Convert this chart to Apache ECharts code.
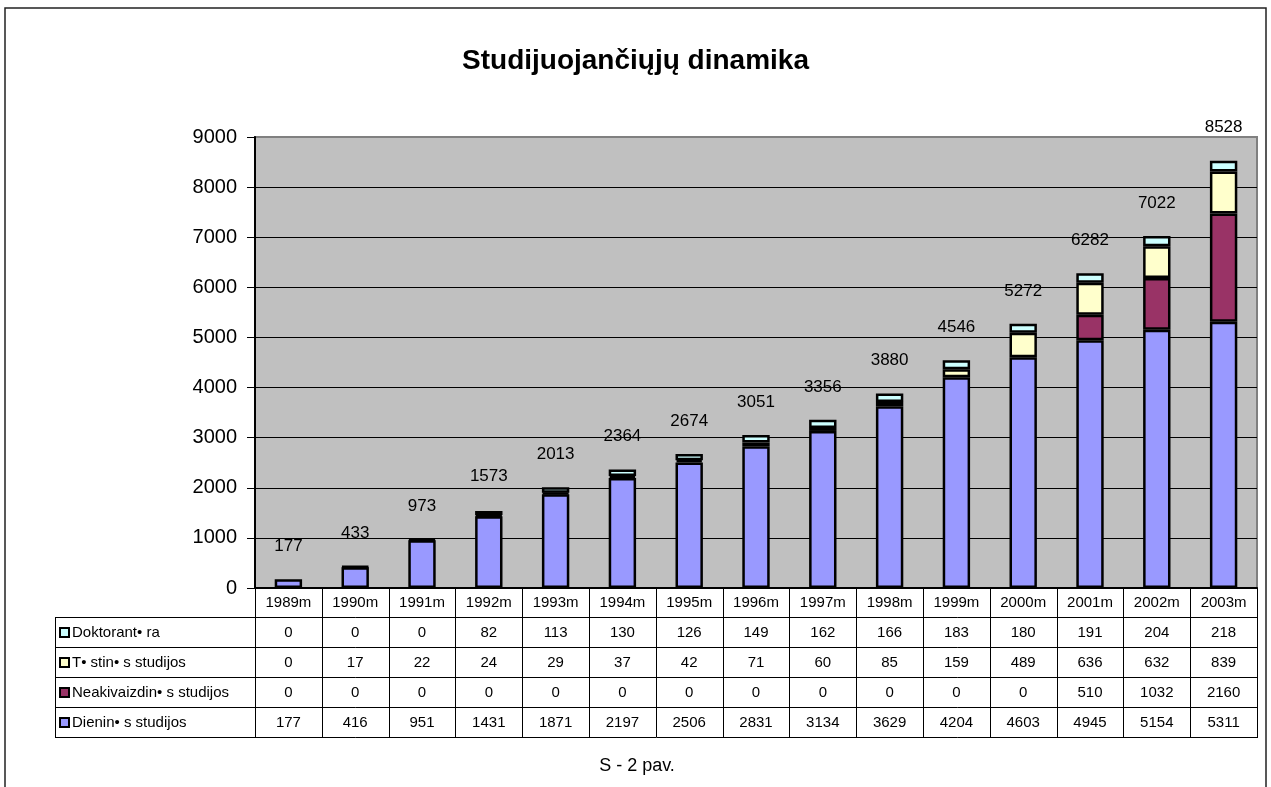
<!DOCTYPE html>
<html><head><meta charset="utf-8">
<script src="https://cdn.jsdelivr.net/npm/echarts@6/dist/echarts.min.js"></script>
<style>html,body{margin:0;padding:0;background:#fff}#c{width:1271px;height:787px}</style>
</head><body><div id="c"></div>
<script>
const categories = ['1989m','1990m','1991m','1992m','1993m','1994m','1995m','1996m','1997m','1998m','1999m','2000m','2001m','2002m','2003m'];
const dienines = [177,416,951,1431,1871,2197,2506,2831,3134,3629,4204,4603,4945,5154,5311];
const neakivaizdines = [0,0,0,0,0,0,0,0,0,0,0,0,510,1032,2160];
const testines = [0,17,22,24,29,37,42,71,60,85,159,489,636,632,839];
const doktorantura = [0,0,0,82,113,130,126,149,162,166,183,180,191,204,218];
const totals = [177,433,973,1573,2013,2364,2674,3051,3356,3880,4546,5272,6282,7022,8528];
const yTicks = [0,1000,2000,3000,4000,5000,6000,7000,8000,9000];
const seriesNames = ['Dienin• s studijos','Neakivaizdin• s studijos','T• stin• s studijos','Doktorant• ra'];
const colors = ['#9999FF','#993366','#FFFFCC','#CCFFFF'];
const tableRows = [
  {name: seriesNames[3], color: colors[3], data: doktorantura},
  {name: seriesNames[2], color: colors[2], data: testines},
  {name: seriesNames[1], color: colors[1], data: neakivaizdines},
  {name: seriesNames[0], color: colors[0], data: dienines}
];

const G = {left: 255, right: 1257, top: 137, bottom: 588};
const tableLeft = 55, rowH = 30, headerH = 29;
const FONT = '"Liberation Sans", Arial, sans-serif';

const chart = echarts.init(document.getElementById('c'), null, {renderer: 'canvas'});

const seriesData = [dienines, neakivaizdines, testines, doktorantura];
const series = seriesData.map((d, i) => ({
  name: seriesNames[i],
  type: 'bar',
  stack: 'total',
  barWidth: '41%',
  data: d.map(v => v === 0 ? null : v),
  itemStyle: {color: colors[i], borderColor: '#000', borderWidth: 2.5},
  emphasis: {disabled: true}
}));
series.push({
  name: 'total',
  type: 'line',
  data: totals,
  symbol: 'circle',
  symbolSize: 1,
  showSymbol: true,
  itemStyle: {color: 'rgba(0,0,0,0)'},
  lineStyle: {width: 0, opacity: 0},
  label: {show: true, position: 'top', distance: 24, fontFamily: FONT, fontSize: 17, color: '#000'},
  emphasis: {disabled: true},
  z: 10
});

const graphics = [];
const n = categories.length;
const band = (G.right - G.left) / n;
const tableTop = G.bottom + headerH;
const tableBottom = tableTop + rowH * tableRows.length;
graphics.push({type: 'rect', shape: {x: 5, y: 8, width: 1261, height: 800}, style: {fill: 'none', stroke: '#222', lineWidth: 1.5}, silent: true});
for (let i = 0; i <= n; i++) {
  const x = Math.round(G.left + i * band) + 0.5;
  graphics.push({type: 'line', shape: {x1: x, y1: G.bottom, x2: x, y2: tableBottom}, style: {stroke: '#000', lineWidth: 1}, silent: true});
}
graphics.push({type: 'line', shape: {x1: tableLeft + 0.5, y1: tableTop, x2: tableLeft + 0.5, y2: tableBottom}, style: {stroke: '#000', lineWidth: 1}, silent: true});
for (let r = 0; r <= tableRows.length; r++) {
  const y = tableTop + r * rowH + 0.5;
  graphics.push({type: 'line', shape: {x1: tableLeft, y1: y, x2: G.right + 1, y2: y}, style: {stroke: '#000', lineWidth: 1}, silent: true});
}
tableRows.forEach((row, r) => {
  const cy = tableTop + r * rowH + rowH / 2 + 1;
  graphics.push({type: 'rect', shape: {x: 60, y: cy - 5, width: 9, height: 9}, style: {fill: row.color, stroke: '#000', lineWidth: 2}, silent: true});
  graphics.push({type: 'text', x: 72, y: cy, style: {text: row.name, font: '15px ' + FONT, fill: '#000', textAlign: 'left', textVerticalAlign: 'middle'}, silent: true});
  row.data.forEach((v, i) => {
    graphics.push({type: 'text', x: G.left + (i + 0.5) * band, y: cy, style: {text: String(v), font: '15px ' + FONT, fill: '#000', textAlign: 'center', textVerticalAlign: 'middle'}, silent: true});
  });
});
graphics.push({type: 'text', x: 637, y: 766, style: {text: 'S - 2 pav.', font: '18px ' + FONT, fill: '#000', textAlign: 'center', textVerticalAlign: 'middle'}, silent: true});

const splitColors = yTicks.map((t, i) => i === yTicks.length - 1 ? '#808080' : '#000');

chart.setOption({
  animation: false,
  backgroundColor: '#fff',
  title: {
    text: 'Studijuojančiųjų dinamika', left: 'center', top: 42,
    textStyle: {fontFamily: FONT, fontSize: 28, fontWeight: 'bold', color: '#000'}
  },
  grid: {
    left: G.left, top: G.top, width: G.right - G.left, height: G.bottom - G.top,
    show: true, backgroundColor: '#C0C0C0', borderColor: '#808080', borderWidth: 2
  },
  xAxis: {
    type: 'category', data: categories,
    axisLine: {lineStyle: {color: '#000', width: 2}},
    axisTick: {show: false},
    axisLabel: {fontFamily: FONT, fontSize: 15, color: '#000', margin: 7, interval: 0}
  },
  yAxis: {
    type: 'value', min: yTicks[0], max: yTicks[yTicks.length - 1], interval: 1000,
    axisLine: {show: true, lineStyle: {color: '#000', width: 2}},
    axisTick: {show: true, length: 8, lineStyle: {color: '#000', width: 1}},
    axisLabel: {fontFamily: FONT, fontSize: 20, color: '#000', margin: 18, formatter: v => String(v)},
    splitLine: {show: true, lineStyle: {color: splitColors, width: 1}}
  },
  series: series,
  graphic: graphics
});
</script></body></html>
